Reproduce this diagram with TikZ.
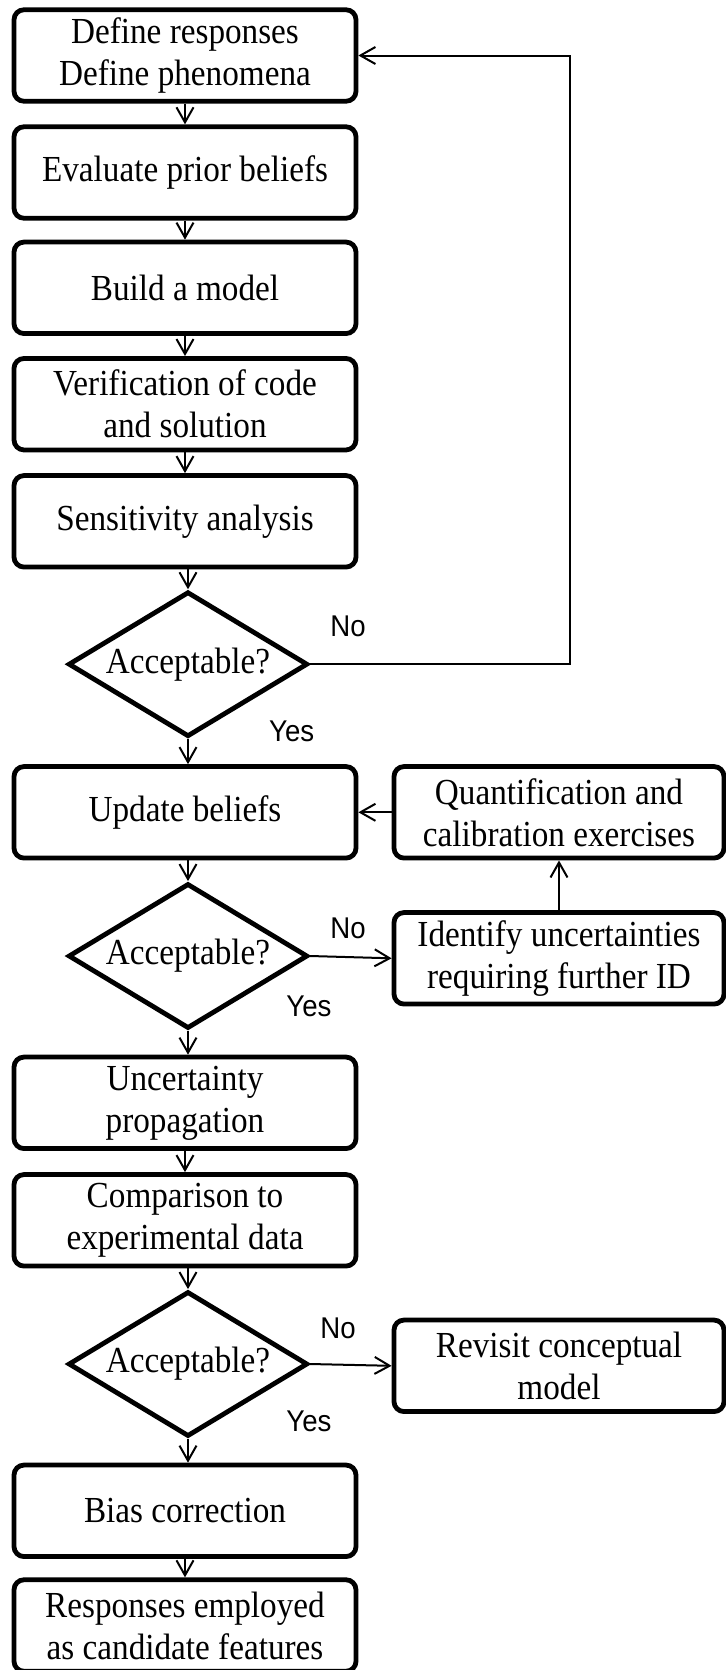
\documentclass[tikz,border=0pt]{standalone}
\usepackage{fontspec}
\setmainfont[FakeStretch=0.905]{Liberation Serif}
\newfontfamily\sansyn[FakeStretch=0.92]{Liberation Sans}
\usetikzlibrary{shapes.geometric,arrows.meta}

\begin{document}
\begin{tikzpicture}[x=0.5pt,y=-0.5pt,
  box/.style =
   {draw,line width=2.4pt,rounded corners=5pt,align=center,
    minimum width=171pt,minimum height=45.75pt,inner sep=2pt,
    font=\fontsize{18.35}{21}\selectfont},
  sidebox/.style = {box,minimum width=165pt},
  decision/.style =
   {draw,diamond,line width=2.4pt,aspect=1.65,inner sep=0pt,
    minimum width=119.75pt,minimum height=72.5pt,
    font=\fontsize{18.35}{21}\selectfont},
  lbl/.style = {font=\sansyn\fontsize{15}{17}\selectfont},
  arr/.style = {-{Straight Barb[length=7.5pt,width=8.5pt]},line width=1pt}]
   \useasboundingbox (0,0) rectangle (726,1670);
   % main column
   \node[box] (def)   at (185,55.5)   {Define responses\\Define phenomena};
   \node[box] (prior) at (185,172.5)  {Evaluate prior beliefs};
   \node[box] (build) at (185,287.8)  {Build a model};
   \node[box] (verif) at (185,404.2)  {Verification of code\\and solution};
   \node[box] (sens)  at (185,521.3)  {Sensitivity analysis};
   \node[decision] (acc1) at (188,664.2) {Acceptable?};
   \node[box] (upd)   at (185,812.3)  {Update beliefs};
   \node[decision] (acc2) at (188,956) {Acceptable?};
   \node[box] (prop)  at (185,1102.8) {Uncertainty\\propagation};
   \node[box] (comp)  at (185,1220.3) {Comparison to\\experimental data};
   \node[decision] (acc3) at (188,1364) {Acceptable?};
   \node[box] (bias)  at (185,1510.8) {Bias correction};
   \node[box] (resp)  at (185,1625.5) {Responses employed\\as candidate features};
   % side column
   \node[sidebox] (quant) at (559,812.3)  {Quantification and\\calibration exercises};
   \node[sidebox] (ident) at (559,958.3)  {Identify uncertainties\\requiring further ID};
   \node[sidebox] (revis) at (559,1365.8) {Revisit conceptual\\model};
   % yes / no marks
   \node[lbl] (no1)  at (348,626.7)  {No};
   \node[lbl] (yes1) at (291.7,731.7) {Yes};
   \node[lbl] (no2)  at (348,928)    {No};
   \node[lbl] (yes2) at (309,1006.7) {Yes};
   \node[lbl] (no3)  at (338,1328)   {No};
   \node[lbl] (yes3) at (309,1421.7) {Yes};
   % connectors
   \draw[arr] (def.south) -- (prior.north);
   \draw[arr] (prior.south) -- (build.north);
   \draw[arr] (build.south) -- (verif.north);
   \draw[arr] (verif.south) -- (sens.north);
   \draw[arr] (sens.south -| acc1.north) -- (acc1.north);
   \draw[arr] (acc1.south) -- (acc1.south |- upd.north);
   \coordinate (back) at (570,664.2);
   \draw[arr] (acc1.east) -- (back) |- (def.east);
   \draw[arr] (upd.south -| acc2.north) -- (acc2.north);
   \draw[arr] (acc2.east) -- (ident.west);
   \draw[arr] (ident.north) -- (quant.south);
   \draw[arr] (quant.west) -- (upd.east);
   \draw[arr] (acc2.south) -- (acc2.south |- prop.north);
   \draw[arr] (prop.south) -- (comp.north);
   \draw[arr] (comp.south -| acc3.north) -- (acc3.north);
   \draw[arr] (acc3.east) -- (revis.west);
   \draw[arr] (acc3.south) -- (acc3.south |- bias.north);
   \draw[arr] (bias.south) -- (resp.north);
\end{tikzpicture}
\end{document}
